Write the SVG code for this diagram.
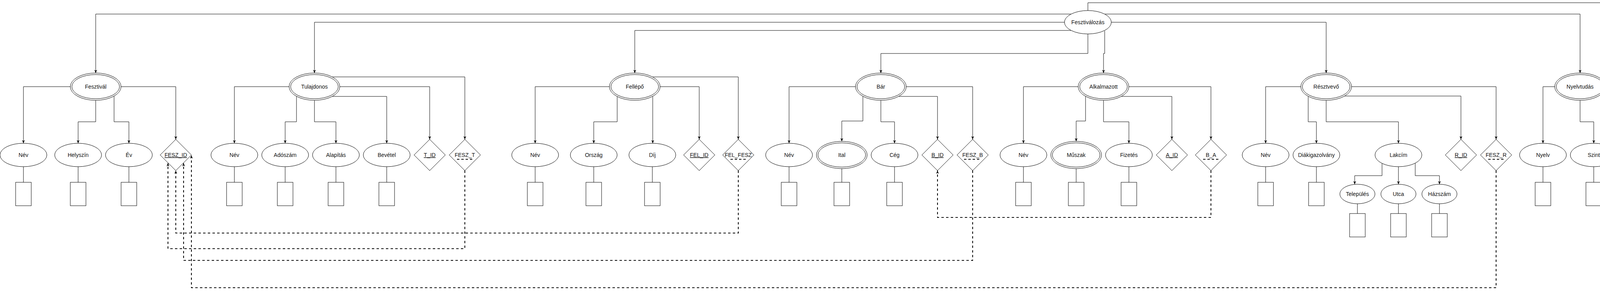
<svg xmlns="http://www.w3.org/2000/svg" width="4652" height="748" viewBox="0 0 4652 748">
<style>
.e{fill:#fff;stroke:#000;stroke-width:1}
.t{font-family:"Liberation Sans",Arial,sans-serif;font-size:14px;text-anchor:middle;fill:#111}
.pk{text-decoration:underline}
.c{fill:none;stroke:#000;stroke-width:1}
.a{marker-end:url(#arr)}
.d{fill:none;stroke:#000;stroke-width:2;stroke-dasharray:6 6;marker-end:url(#arr)}
.fk{stroke:#000;stroke-width:2;stroke-dasharray:6 5}
</style>
<defs>
<marker id="arr" markerWidth="10" markerHeight="10" refX="9" refY="5" orient="auto" markerUnits="userSpaceOnUse"><path d="M1,1.5 L9,5 L1,8.5 L3,5 Z" fill="#000"/></marker>
</defs>
<rect width="4652" height="748" fill="#fff"/>
<g id="connectors">
<!-- root -->
<path class="c a" d="M2742,36 H245 V187"/>
<path class="c a" d="M2725,57 H805 V187"/>
<path class="c a" d="M2742,78 H1625 V187"/>
<path class="c a" d="M2785,87 V137 H2255 V187"/>
<path class="c a" d="M2828,79 V137 H2825 V187"/>
<path class="c a" d="M2845,57 H3395 V187"/>
<path class="c a" d="M2828,36 H4045 V187"/>
<path class="c a" d="M2785,27 V7 H4365 V187"/>
<!-- Fesztival -->
<path class="c a" d="M180,222 H60 V367"/>
<path class="c a" d="M245,257 V312 H200 V367"/>
<path class="c a" d="M292,246 V312 H330 V367"/>
<path class="c a" d="M310,222 H450 V357"/>
<!-- Tulajdonos -->
<path class="c a" d="M740,222 H600 V367"/>
<path class="c a" d="M759,247 V312 H730 V367"/>
<path class="c a" d="M805,257 V312 H860 V367"/>
<path class="c a" d="M851,247 H990 V367"/>
<path class="c a" d="M870,222 H1100 V357"/>
<path class="c a" d="M851,197 H1190 V357"/>
<!-- Fellepo -->
<path class="c a" d="M1560,222 H1370 V367"/>
<path class="c a" d="M1580,247 V312 H1520 V367"/>
<path class="c a" d="M1671,247 V367"/>
<path class="c a" d="M1690,222 H1790 V357"/>
<path class="c a" d="M1671,197 H1890 V357"/>
<!-- Bar -->
<path class="c a" d="M2190,222 H2020 V367"/>
<path class="c a" d="M2209,247 V310 H2155 V362"/>
<path class="c a" d="M2255,257 V312 H2290 V367"/>
<path class="c a" d="M2301,247 H2400 V357"/>
<path class="c a" d="M2320,222 H2490 V357"/>
<!-- Alkalmazott -->
<path class="c a" d="M2760,222 H2620 V367"/>
<path class="c a" d="M2779,247 V310 H2755 V362"/>
<path class="c a" d="M2825,257 V312 H2890 V367"/>
<path class="c a" d="M2871,247 H3000 V357"/>
<path class="c a" d="M2890,222 H3100 V357"/>
<!-- Resztvevo -->
<path class="c a" d="M3330,222 H3240 V367"/>
<path class="c a" d="M3349,247 V312 H3370 V367"/>
<path class="c a" d="M3395,257 V312 H3580 V367"/>
<path class="c a" d="M3441,246 H3740 V357"/>
<path class="c a" d="M3460,222 H3830 V357"/>
<path class="c a" d="M3538,418 V450 H3468 V472"/>
<path class="c a" d="M3580,427 V472"/>
<path class="c a" d="M3623,418 V450 H3685 V472"/>
<!-- Nyelvtudas -->
<path class="c a" d="M3980,222 H3950 V367"/>
<path class="c a" d="M4045,257 V312 H4080 V367"/>
<path class="c a" d="M4110,222 H4190 V357"/>
<!-- Kozvelemeny -->
<path class="c a" d="M4300,222 H4281 V312 H4310 V367"/>
<path class="c a" d="M4320,247 V307 H4430 V357"/>
<path class="c a" d="M4411,247 H4520 V357"/>
<path class="c a" d="M4430,222 H4610 V357"/>
<!-- attribute to domain boxes -->
<path class="c" d="M60,427 V467 M200,427 V467 M330,427 V467 M600,427 V467 M730,427 V467 M860,427 V467 M990,427 V467 M1370,427 V467 M1520,427 V467 M1670,427 V467 M2020,427 V467 M2155,432 V467 M2290,427 V467 M2620,427 V467 M2755,432 V467 M2890,427 V467 M3240,427 V467 M3370,427 V467 M3475,522 V547 M3580,522 V547 M3685,522 V547 M3950,427 V467 M4080,427 V467 M4310,427 V467"/>
<!-- foreign keys -->
<path class="d" d="M1890,437 V597 H450 V437"/>
<path class="d" d="M1190,437 V637 H430 V418"/>
<path class="d" d="M2490,437 V667 H470 V418"/>
<path class="d" d="M3830,437 V737 H490 V398"/>
<path class="d" d="M3100,437 V557 H2400 V437"/>
</g>

<g id="fesztivalozas"><ellipse class="e" cx="2785" cy="57" rx="60" ry="30"/><text class="t" x="2785" y="62">Fesztiválozás</text></g>

<g id="fesztival"><ellipse class="e" cx="245" cy="222" rx="65" ry="35"/><ellipse class="e" cx="245" cy="222" rx="61" ry="31"/><text class="t" x="245" y="227">Fesztivál</text></g>
<g id="fesztival-nev"><ellipse class="e" cx="60" cy="397" rx="60" ry="30"/><text class="t" x="60" y="402">Név</text><rect class="e" x="40" y="467" width="40" height="60"/></g>
<g id="fesztival-helyszin"><ellipse class="e" cx="200" cy="397" rx="60" ry="30"/><text class="t" x="200" y="402">Helyszín</text><rect class="e" x="180" y="467" width="40" height="60"/></g>
<g id="fesztival-ev"><ellipse class="e" cx="330" cy="397" rx="60" ry="30"/><text class="t" x="330" y="402">Év</text><rect class="e" x="310" y="467" width="40" height="60"/></g>
<g id="fesz-id"><polygon class="e" points="450,357 490,397 450,437 410,397"/><text class="t pk" x="450" y="402">FESZ_ID</text></g>

<g id="tulajdonos"><ellipse class="e" cx="805" cy="222" rx="65" ry="35"/><ellipse class="e" cx="805" cy="222" rx="61" ry="31"/><text class="t" x="805" y="227">Tulajdonos</text></g>
<g id="tul-nev"><ellipse class="e" cx="600" cy="397" rx="60" ry="30"/><text class="t" x="600" y="402">Név</text><rect class="e" x="580" y="467" width="40" height="60"/></g>
<g id="tul-adoszam"><ellipse class="e" cx="730" cy="397" rx="60" ry="30"/><text class="t" x="730" y="402">Adószám</text><rect class="e" x="710" y="467" width="40" height="60"/></g>
<g id="tul-alapitas"><ellipse class="e" cx="860" cy="397" rx="60" ry="30"/><text class="t" x="860" y="402">Alapítás</text><rect class="e" x="840" y="467" width="40" height="60"/></g>
<g id="tul-bevetel"><ellipse class="e" cx="990" cy="397" rx="60" ry="30"/><text class="t" x="990" y="402">Bevétel</text><rect class="e" x="970" y="467" width="40" height="60"/></g>
<g id="t-id"><polygon class="e" points="1100,357 1140,397 1100,437 1060,397"/><text class="t pk" x="1100" y="402">T_ID</text></g>
<g id="fesz-t"><polygon class="e" points="1190,357 1230,397 1190,437 1150,397"/><text class="t" x="1190" y="402">FESZ_T</text><line class="fk" x1="1170" y1="408" x2="1211" y2="408"/></g>

<g id="fellepo"><ellipse class="e" cx="1625" cy="222" rx="65" ry="35"/><ellipse class="e" cx="1625" cy="222" rx="61" ry="31"/><text class="t" x="1625" y="227">Fellépő</text></g>
<g id="fel-nev"><ellipse class="e" cx="1370" cy="397" rx="60" ry="30"/><text class="t" x="1370" y="402">Név</text><rect class="e" x="1350" y="467" width="40" height="60"/></g>
<g id="fel-orszag"><ellipse class="e" cx="1520" cy="397" rx="60" ry="30"/><text class="t" x="1520" y="402">Ország</text><rect class="e" x="1500" y="467" width="40" height="60"/></g>
<g id="fel-dij"><ellipse class="e" cx="1670" cy="397" rx="60" ry="30"/><text class="t" x="1670" y="402">Díj</text><rect class="e" x="1650" y="467" width="40" height="60"/></g>
<g id="fel-id"><polygon class="e" points="1790,357 1830,397 1790,437 1750,397"/><text class="t pk" x="1790" y="402">FEL_ID</text></g>
<g id="fel-fesz"><polygon class="e" points="1890,357 1930,397 1890,437 1850,397"/><text class="t" x="1890" y="402">FEL_FESZ</text><line class="fk" x1="1870" y1="408" x2="1911" y2="408"/></g>

<g id="bar"><ellipse class="e" cx="2255" cy="222" rx="65" ry="35"/><ellipse class="e" cx="2255" cy="222" rx="61" ry="31"/><text class="t" x="2255" y="227">Bár</text></g>
<g id="bar-nev"><ellipse class="e" cx="2020" cy="397" rx="60" ry="30"/><text class="t" x="2020" y="402">Név</text><rect class="e" x="2000" y="467" width="40" height="60"/></g>
<g id="bar-ital"><ellipse class="e" cx="2155" cy="397" rx="65" ry="35"/><ellipse class="e" cx="2155" cy="397" rx="61" ry="31"/><text class="t" x="2155" y="402">Ital</text><rect class="e" x="2135" y="467" width="40" height="60"/></g>
<g id="bar-ceg"><ellipse class="e" cx="2290" cy="397" rx="60" ry="30"/><text class="t" x="2290" y="402">Cég</text><rect class="e" x="2270" y="467" width="40" height="60"/></g>
<g id="b-id"><polygon class="e" points="2400,357 2440,397 2400,437 2360,397"/><text class="t pk" x="2400" y="402">B_ID</text></g>
<g id="fesz-b"><polygon class="e" points="2490,357 2530,397 2490,437 2450,397"/><text class="t" x="2490" y="402">FESZ_B</text><line class="fk" x1="2468" y1="408" x2="2510" y2="408"/></g>

<g id="alkalmazott"><ellipse class="e" cx="2825" cy="222" rx="65" ry="35"/><ellipse class="e" cx="2825" cy="222" rx="61" ry="31"/><text class="t" x="2825" y="227">Alkalmazott</text></g>
<g id="alk-nev"><ellipse class="e" cx="2620" cy="397" rx="60" ry="30"/><text class="t" x="2620" y="402">Név</text><rect class="e" x="2600" y="467" width="40" height="60"/></g>
<g id="alk-muszak"><ellipse class="e" cx="2755" cy="397" rx="65" ry="35"/><ellipse class="e" cx="2755" cy="397" rx="61" ry="31"/><text class="t" x="2755" y="402">Műszak</text><rect class="e" x="2735" y="467" width="40" height="60"/></g>
<g id="alk-fizetes"><ellipse class="e" cx="2890" cy="397" rx="60" ry="30"/><text class="t" x="2890" y="402">Fizetés</text><rect class="e" x="2870" y="467" width="40" height="60"/></g>
<g id="a-id"><polygon class="e" points="3000,357 3040,397 3000,437 2960,397"/><text class="t pk" x="3000" y="402">A_ID</text></g>
<g id="b-a"><polygon class="e" points="3100,357 3140,397 3100,437 3060,397"/><text class="t" x="3100" y="402">B_A</text><line class="fk" x1="3080" y1="408" x2="3121" y2="408"/></g>

<g id="resztvevo"><ellipse class="e" cx="3395" cy="222" rx="65" ry="35"/><ellipse class="e" cx="3395" cy="222" rx="61" ry="31"/><text class="t" x="3395" y="227">Résztvevő</text></g>
<g id="r-nev"><ellipse class="e" cx="3240" cy="397" rx="60" ry="30"/><text class="t" x="3240" y="402">Név</text><rect class="e" x="3220" y="467" width="40" height="60"/></g>
<g id="r-diak"><ellipse class="e" cx="3370" cy="397" rx="60" ry="30"/><text class="t" x="3370" y="402">Diákigazolvány</text><rect class="e" x="3350" y="467" width="40" height="60"/></g>
<g id="r-lakcim"><ellipse class="e" cx="3580" cy="397" rx="60" ry="30"/><text class="t" x="3580" y="402">Lakcím</text></g>
<g id="telepules"><ellipse class="e" cx="3475" cy="497" rx="45" ry="25"/><text class="t" x="3475" y="502">Település</text><rect class="e" x="3455" y="547" width="40" height="60"/></g>
<g id="utca"><ellipse class="e" cx="3580" cy="497" rx="45" ry="25"/><text class="t" x="3580" y="502">Utca</text><rect class="e" x="3560" y="547" width="40" height="60"/></g>
<g id="hazszam"><ellipse class="e" cx="3685" cy="497" rx="45" ry="25"/><text class="t" x="3685" y="502">Házszám</text><rect class="e" x="3665" y="547" width="40" height="60"/></g>
<g id="r-id"><polygon class="e" points="3740,357 3780,397 3740,437 3700,397"/><text class="t pk" x="3740" y="402">R_ID</text></g>
<g id="fesz-r"><polygon class="e" points="3830,357 3870,397 3830,437 3790,397"/><text class="t" x="3830" y="402">FESZ_R</text><line class="fk" x1="3810" y1="408" x2="3851" y2="408"/></g>

<g id="nyelvtudas"><ellipse class="e" cx="4045" cy="222" rx="65" ry="35"/><ellipse class="e" cx="4045" cy="222" rx="61" ry="31"/><text class="t" x="4045" y="227">Nyelvtudás</text></g>
<g id="ny-nyelv"><ellipse class="e" cx="3950" cy="397" rx="60" ry="30"/><text class="t" x="3950" y="402">Nyelv</text><rect class="e" x="3930" y="467" width="40" height="60"/></g>
<g id="ny-szint"><ellipse class="e" cx="4080" cy="397" rx="60" ry="30"/><text class="t" x="4080" y="402">Szint</text><rect class="e" x="4060" y="467" width="40" height="60"/></g>
<g id="ny-id"><polygon class="e" points="4190,357 4230,397 4190,437 4150,397"/><text class="t pk" x="4190" y="402">NY_ID</text></g>

<g id="kozvelemeny"><ellipse class="e" cx="4365" cy="222" rx="65" ry="35"/><ellipse class="e" cx="4365" cy="222" rx="61" ry="31"/><text class="t" x="4365" y="227">Közvélemény</text></g>
<g id="k-kerdezo"><ellipse class="e" cx="4310" cy="397" rx="60" ry="30"/><text class="t" x="4310" y="402">Kérdező</text><rect class="e" x="4290" y="467" width="40" height="60"/></g>
<g id="k-id"><polygon class="e" points="4430,357 4470,397 4430,437 4390,397"/><text class="t pk" x="4430" y="402">K_ID</text></g>
<g id="k-r-id"><polygon class="e" points="4520,357 4560,397 4520,437 4480,397"/><text class="t" x="4520" y="402">R_ID</text><line class="fk" x1="4500" y1="408" x2="4541" y2="408"/></g>
<g id="k-ny-id"><polygon class="e" points="4610,357 4650,397 4610,437 4570,397"/><text class="t" x="4610" y="402">NY_ID</text><line class="fk" x1="4590" y1="408" x2="4631" y2="408"/></g>
</svg>
